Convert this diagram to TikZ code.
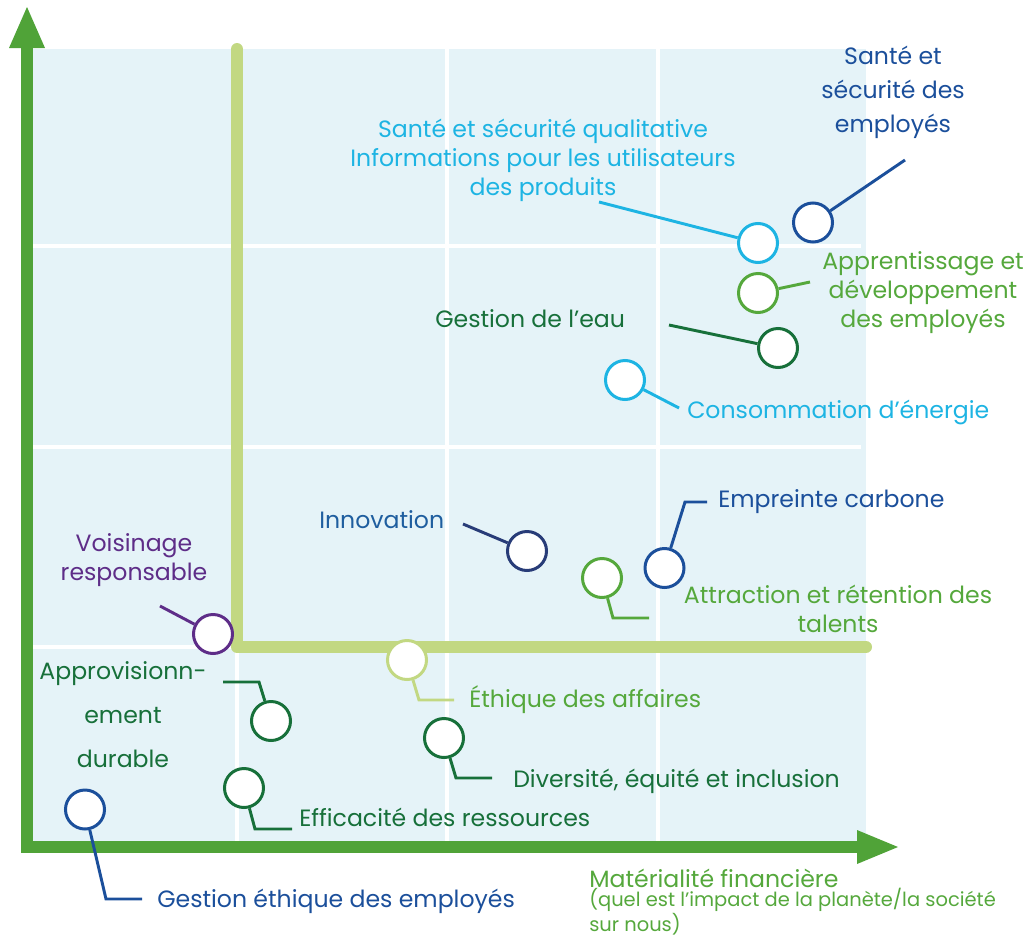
\documentclass[tikz,border=0pt]{standalone}
\usepackage{fontspec}
\setmainfont{Poppins}
\definecolor{panel}{HTML}{E5F3F8}
\definecolor{axisg}{HTML}{50A338}
\definecolor{lightg}{HTML}{C2D882}
\definecolor{dblue}{HTML}{1B4F9B}
\definecolor{navy}{HTML}{283C78}
\definecolor{ibl}{HTML}{1F5E9F}
\definecolor{cyanc}{HTML}{1DB4E3}
\definecolor{greenc}{HTML}{55A83C}
\definecolor{dgreen}{HTML}{17703A}
\definecolor{purp}{HTML}{5E2D88}
\begin{document}
\begin{tikzpicture}[x=0.75pt,y=-0.75pt,
  lab/.style={font=\fontsize{17.7}{21.4}\selectfont, anchor=base, inner sep=0pt, align=center},
  labl/.style={lab, anchor=base west, align=left},
  dot/.style={circle, draw=#1, fill=white, line width=2.25pt, minimum size=29.25pt, inner sep=0pt},
  conn/.style={line width=2.2pt}]
\useasboundingbox (0,0) rectangle (1028,939);
% panel
\fill[panel] (33,49) rectangle (866,841);
% grid
\begin{scope}[white, line width=3pt]
  \draw (237,647) -- (237,841);
  \draw (447,49) -- (447,841);
  \draw (658,49) -- (658,841);
  \draw (33,246) -- (861,246);
  \draw (33,447) -- (861,447);
  \draw (33,647) -- (861,647);
\end{scope}
% quadrant lines
\draw[lightg, line width=9pt, line cap=round, line join=round] (237,49) -- (237,647) -- (866,647);
% axes
\draw[axisg, line width=9pt, line join=miter] (27,46) -- (27,847) -- (860,847);
\fill[axisg] (9,48) -- (27,7) -- (45,48) -- cycle;
\fill[axisg] (857,830) -- (898,847) -- (857,864) -- cycle;

% connector ends
\coordinate (e1) at (905,160);
\coordinate (e2) at (599,202);
\coordinate (e3) at (810,282);
\coordinate (e4) at (669,325);
\coordinate (e5) at (679,408);
\coordinate (e6) at (463,524);
\coordinate (e7a) at (685,502);
\coordinate (e7b) at (707,502);
\coordinate (e8a) at (613,618);
\coordinate (e8b) at (649,618);
\coordinate (e9) at (160,606);
\coordinate (e10a) at (419,700);
\coordinate (e10b) at (454,700);
\coordinate (e11a) at (223,682);
\coordinate (e11b) at (259,682);
\coordinate (e12a) at (456,778);
\coordinate (e12b) at (492,778);
\coordinate (e13a) at (255,829);
\coordinate (e13b) at (292,829);
\coordinate (e14a) at (106,899);
\coordinate (e14b) at (142,899);

% circles
\node[dot=dblue] (d1) at (813,222.5) {};
\node[dot=cyanc] (d2) at (758,243) {};
\node[dot=greenc] (d3) at (758,293) {};
\node[dot=dgreen] (d4) at (778,348) {};
\node[dot=cyanc] (d5) at (625,380) {};
\node[dot=navy] (d6) at (527,551) {};
\node[dot=dblue] (d7) at (664.5,568) {};
\node[dot=greenc] (d8) at (602,578) {};
\node[dot=purp] (d9) at (213,634) {};
\node[dot=lightg] (d10) at (407,660) {};
\node[dot=dgreen] (d11) at (271,721) {};
\node[dot=dgreen] (d12) at (444,738) {};
\node[dot=dgreen] (d13) at (244,788) {};
\node[dot=dblue] (d14) at (85,809.5) {};

\draw[conn, dblue] (d1) -- (e1);
\draw[conn, cyanc] (e2) -- (d2);
\draw[conn, greenc] (d3) -- (e3);
\draw[conn, dgreen] (e4) -- (d4);
\draw[conn, cyanc] (d5) -- (e5);
\draw[conn, navy] (e6) -- (d6);
\draw[conn, dblue] (d7) -- (e7a) -- (e7b);
\draw[conn, greenc] (d8) -- (e8a) -- (e8b);
\draw[conn, purp] (e9) -- (d9);
\draw[conn, lightg] (d10) -- (e10a) -- (e10b);
\draw[conn, dgreen] (e11a) -- (e11b) -- (d11);
\draw[conn, dgreen] (d12) -- (e12a) -- (e12b);
\draw[conn, dgreen] (d13) -- (e13a) -- (e13b);
\draw[conn, dblue] (d14) -- (e14a) -- (e14b);

% labels (anchor base = baseline of last line)
\node[lab, dblue, font=\fontsize{17.7}{25.5}\selectfont] (t1) at (893,132) {Santé et\\sécurité des\\employés};
\node[lab, cyanc] (t2) at (543,195) {Santé et sécurité qualitative\\Informations pour les utilisateurs\\des produits};
\node[lab, greenc] (t3) at (923,327) {Apprentissage et\\développement\\des employés};
\node[labl, dgreen] (t4) at (435,327) {Gestion de l’eau};
\node[labl, cyanc] (t5) at (687,418) {Consommation d’énergie};
\node[labl, ibl] (t6) at (319,528) {Innovation};
\node[labl, dblue] (t7) at (718,507) {Empreinte carbone};
\node[lab, greenc] (t8) at (838,632) {Attraction et rétention des\\talents};
\node[lab, purp] (t9) at (134,580) {Voisinage\\responsable};
\node[labl, greenc] (t10) at (469,707) {Éthique des affaires};
\node[lab, dgreen, font=\fontsize{17.7}{33}\selectfont] (t11) at (123,767) {Approvisionn-\\ement\\durable};
\node[labl, dgreen] (t12) at (513,787) {Diversité, équité et inclusion};
\node[labl, dgreen] (t13) at (299,826) {Efficacité des ressources};
\node[labl, dblue] (t14) at (157,907) {Gestion éthique des employés};
\node[labl, greenc] (t15) at (589,887) {Matérialité financière};
\node[labl, greenc, font=\fontsize{14.6}{16.6}\selectfont] (t16) at (589,931) {(quel est l’impact de la planète/la société\\sur nous)};
\end{tikzpicture}
\end{document}
